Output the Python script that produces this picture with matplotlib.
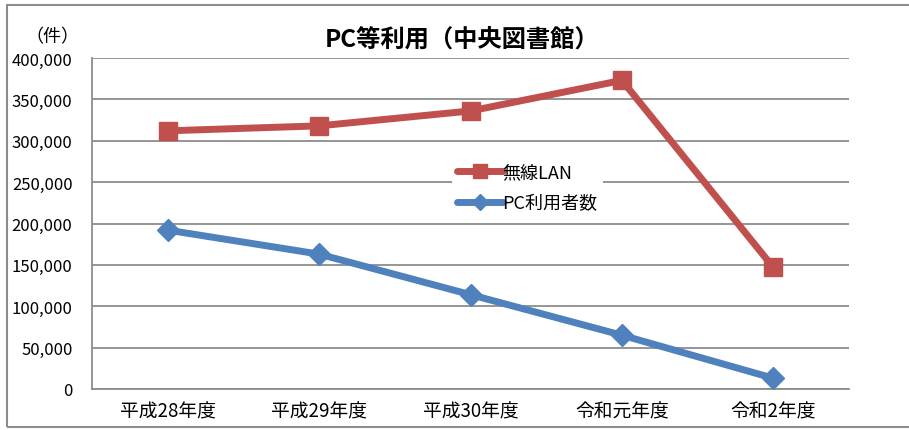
import matplotlib.pyplot as plt
from matplotlib.patches import Rectangle
from matplotlib.ticker import FuncFormatter

plt.rcParams['font.family'] = ['Noto Sans CJK JP', 'DejaVu Sans']

years = ["平成28年度", "平成29年度", "平成30年度", "令和元年度", "令和2年度"]
wireless_lan = [312000, 318000, 336000, 373000, 147000]
pc_users = [192000, 163000, 114000, 65000, 13000]
y_ticks = [0, 50000, 100000, 150000, 200000, 250000, 300000, 350000, 400000]

W, H = 909, 431
fig = plt.figure(figsize=(W / 100, H / 100), dpi=100)
ax = fig.add_axes([92 / W, 1 - 390 / H, (849 - 92) / W, (390 - 59) / H])

x = range(len(years))
ax.plot(x, wireless_lan, color="#C0504D", lw=5, marker="s", ms=13,
        label="無線LAN", zorder=3, solid_capstyle="round")
ax.plot(x, pc_users, color="#4F81BD", lw=5, marker="D", ms=11,
        label="PC利用者数", zorder=3, solid_capstyle="round")

ax.set_xlim(-0.5, len(years) - 0.5)
ax.set_ylim(0, 400000)
ax.set_yticks(y_ticks)
ax.yaxis.set_major_formatter(FuncFormatter(lambda v, p: f"{int(v):,}"))
ax.set_xticks(list(x))
ax.set_xticklabels(years)
ax.tick_params(length=0, colors="black")
ax.tick_params(axis="y", labelsize=12, pad=14)
ax.tick_params(axis="x", labelsize=13.5, pad=8)
ax.grid(axis="y", color="#8c8c8c", lw=1.3)
ax.set_axisbelow(True)
for side in ["top", "right"]:
    ax.spines[side].set_visible(False)
for side in ["left", "bottom"]:
    ax.spines[side].set_color("#8c8c8c")
    ax.spines[side].set_linewidth(1.3)

leg = ax.legend(loc="upper left", bbox_to_anchor=((443 - 92) / 757, 1 - (150 - 59) / 331),
                frameon=True, fontsize=13, handlelength=2.5, labelspacing=0.7,
                borderpad=0.3, handletextpad=0.0, markerscale=0.75)
leg.get_frame().set_edgecolor("none")
leg.get_frame().set_facecolor("white")
leg.get_frame().set_alpha(1)

fig.text(462 / W, 1 - 40 / H, "PC等利用（中央図書館）", ha="center", va="center",
         fontsize=17.5, fontweight="bold")
fig.text(52 / W, 1 - 37 / H, "（件）", ha="center", va="center", fontsize=13)

fig.patches.append(Rectangle((7 / W, 3 / H), 1.1, 1 - 9 / H, transform=fig.transFigure,
                             fill=False, edgecolor="#8c8c8c", lw=1.5))

fig.savefig("out.png", dpi=100)
